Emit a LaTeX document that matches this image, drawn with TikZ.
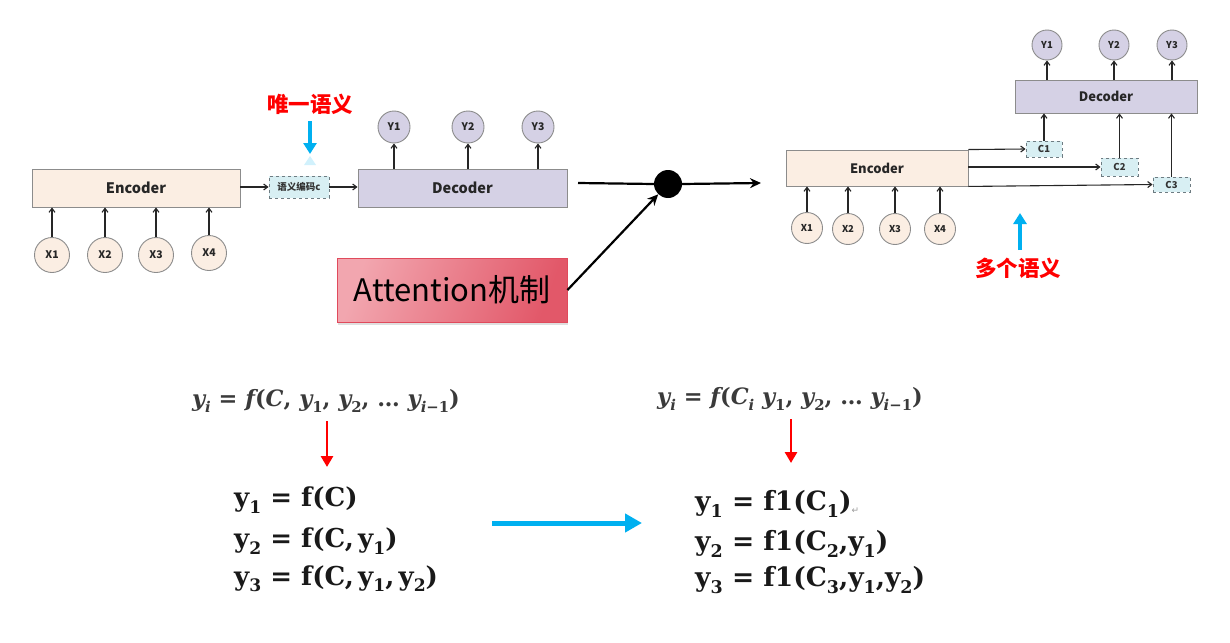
\documentclass[tikz,border=0pt]{standalone}
\usepackage{graphicx}
\usepackage{fontspec}
\usetikzlibrary{arrows.meta,shadows}
\newfontfamily\cjk{Noto Sans CJK SC}
\newfontfamily\symf{DejaVu Sans}
\newfontfamily\fser{DejaVu Serif}
\newcommand{\sbx}[1]{\raisebox{-0.24em}{\scalebox{0.66}{#1}}}
\newcommand{\vi}[1]{{\itshape #1}}
\definecolor{peach}{HTML}{FBEEE3}
\definecolor{lav}{HTML}{D5D1E5}
\definecolor{cfill}{HTML}{D8EFF3}
\definecolor{bgray}{HTML}{8C8C8C}
\definecolor{dgray}{HTML}{6E7C82}
\definecolor{skyb}{HTML}{00B0F0}
\definecolor{redt}{HTML}{FF0000}
\definecolor{attL}{HTML}{F2A6AF}
\definecolor{attR}{HTML}{E25869}
\definecolor{attB}{HTML}{E04A5C}
\definecolor{ftxt}{HTML}{3A3A3A}
\begin{document}
\begin{tikzpicture}[x=1pt,y=-1pt,
  box/.style={draw=bgray, line width=0.9pt, inner sep=0pt, text=black!85},
  encL/.style={box, fill=peach, minimum width=208pt, minimum height=38pt, font=\cjk\bfseries\fontsize{14.5}{16}\selectfont},
  decL/.style={box, fill=lav, minimum width=209pt, minimum height=38pt, font=\cjk\bfseries\fontsize{14.5}{16}\selectfont},
  encR/.style={box, fill=peach, minimum width=182pt, minimum height=36pt, font=\cjk\bfseries\fontsize{13}{15}\selectfont},
  decR/.style={box, fill=lav, minimum width=182pt, minimum height=33pt, font=\cjk\bfseries\fontsize{13}{15}\selectfont},
  xcL/.style={circle, draw=bgray, line width=0.9pt, fill=peach, inner sep=0pt, minimum size=35pt, text=black!85, font=\cjk\bfseries\fontsize{10.5}{12}\selectfont},
  ycL/.style={xcL, fill=lav, minimum size=32pt},
  xcR/.style={xcL, minimum size=31pt, font=\cjk\bfseries\fontsize{9.5}{11}\selectfont},
  ycR/.style={xcR, fill=lav, minimum size=30pt},
  cbox/.style={draw=dgray, dashed, line width=0.9pt, fill=cfill, inner sep=0pt, text=black!80, font=\cjk\bfseries\fontsize{9.5}{11}\selectfont},
  tarr/.style={draw=black!85, line width=1.1pt, -{Straight Barb[length=4pt,width=6pt]}},
  bigl/.style={draw=black, line width=2.2pt},
  bigarr/.style={bigl, -{Stealth[length=11pt,width=10pt]}},
  redlab/.style={text=redt, font=\cjk\bfseries\fontsize{21.5}{24}\selectfont},
  skyarr/.style={draw=skyb, line width=3.5pt, -{Triangle[length=11pt,width=13pt]}},
  redarr/.style={draw=redt, line width=2.8pt, -{Triangle[length=11pt,width=12pt]}},
  ftop/.style={text=ftxt, inner sep=0pt, font=\fser\bfseries\fontsize{22.5}{26}\selectfont},
  fbot/.style={text=black!90, inner sep=0pt, anchor=west, font=\fser\bfseries\fontsize{26}{30}\selectfont},
]
\useasboundingbox (0,0) rectangle (1230,642);

% ---------- left encoder-decoder ----------
\node[encL] (encl) at (136,188) {Encoder};
\node[xcL] (lx1) at (52,255) {X1};
\node[xcL] (lx2) at (105,255) {X2};
\node[xcL] (lx3) at (156,255) {X3};
\node[xcL] (lx4) at (209,253) {X4};
\foreach \n in {lx1,lx2,lx3,lx4}
  \draw[tarr] (\n.north) -- (\n.north |- encl.south);
\node[cbox, minimum width=60pt, minimum height=22pt] (sem) at (299,187) {语义编码c};
\node[decL] (decl) at (462.5,188) {Decoder};
\draw[tarr] (encl.east |- sem.west) -- (sem.west);
\draw[tarr] (sem.east) -- (sem.east -| decl.west);
\node[ycL] (ly1) at (394,127) {Y1};
\node[ycL] (ly2) at (468,127) {Y2};
\node[ycL] (ly3) at (538,127) {Y3};
\foreach \n in {ly1,ly2,ly3}
  \draw[tarr] (\n.south |- decl.north) -- (\n.south);
\node[redlab] (uniq) at (310,104) {唯一语义};
\coordinate (ua) at (310,121);
\coordinate (ub) at (310,154);
\draw[skyarr] (ua) -- (ub);
\fill[skyb!18] (304,165) -- (316,165) -- (310,156) -- cycle;

% ---------- middle ----------
\node[circle, fill=black, inner sep=0pt, minimum size=28pt] (dot) at (668,184) {};
\coordinate (ms) at (578,183);
\coordinate (me) at (761,183);
\draw[bigl] (ms) -- (dot.west);
\draw[bigarr] (dot.east) -- (me);
\node[draw=attB, line width=0.9pt, left color=attL, right color=attR, shading angle=70,
      minimum width=230pt, minimum height=64pt, inner sep=0pt,
      drop shadow={shadow xshift=1pt, shadow yshift=-3pt, opacity=0.25},
      font=\cjk\fontsize{31}{34}\selectfont] (att) at (452,290) {Attention机制};
\draw[bigarr] (att.east) -- (dot);

% ---------- right encoder-decoder ----------
\node[encR] (encr) at (877,168) {Encoder};
\node[decR] (decr) at (1106,96.5) {Decoder};
\node[xcR] (rx1) at (807,228) {X1};
\node[xcR] (rx2) at (848,229) {X2};
\node[xcR] (rx3) at (895,229) {X3};
\node[xcR] (rx4) at (940,229) {X4};
\foreach \n in {rx1,rx2,rx3,rx4}
  \draw[tarr] (\n.north) -- (\n.north |- encr.south);
\node[ycR] (ry1) at (1047,45) {Y1};
\node[ycR] (ry2) at (1114,45) {Y2};
\node[ycR] (ry3) at (1172,45) {Y3};
\foreach \n in {ry1,ry2,ry3}
  \draw[tarr] (\n.south |- decr.north) -- (\n.south);
\node[cbox, minimum width=36pt, minimum height=16pt] (c1) at (1044,149) {C1};
\node[cbox, minimum width=37pt, minimum height=18pt] (c2) at (1119.5,167) {C2};
\node[cbox, minimum width=37pt, minimum height=15pt] (c3) at (1171.5,184.5) {C3};
\draw[tarr] (encr.north east) -- (c1.west);
\draw[tarr] (encr.east |- c2.west) -- (c2.west);
\draw[tarr] (encr.south east) -- (c3.west);
\foreach \n in {c1,c2,c3}
  \draw[tarr] (\n.north) -- (\n.north |- decr.south);
\node[redlab] (multi) at (1018,268) {多个语义};
\coordinate (ma) at (1020,250);
\coordinate (mb) at (1020,213);
\draw[skyarr] (ma) -- (mb);

% ---------- formulas ----------
\node[ftop] (fl) at (326,401) {\vi{y}\sbx{\vi{i}} = \vi{f}(\vi{C}, \vi{y}\sbx{1}, \vi{y}\sbx{2}, … \vi{y}\sbx{\vi{i}−1})};
\node[ftop] (fr) at (790,399) {\vi{y}\sbx{\vi{i}} = \vi{f}(\vi{C}\sbx{\vi{i}} \vi{y}\sbx{1}, \vi{y}\sbx{2}, … \vi{y}\sbx{\vi{i}−1})};
\coordinate (la) at (327,421);
\coordinate (lb) at (327,467);
\draw[redarr] (la) -- (lb);
\coordinate (ra) at (791,419);
\coordinate (rb) at (791,463);
\draw[redarr] (ra) -- (rb);

\node[fbot] (l1) at (234,500) {y\sbx{1} = f(C)};
\node[fbot] (l2) at (234,541) {y\sbx{2} = f(C,\,y\sbx{1})};
\node[fbot] (l3) at (234,579) {y\sbx{3} = f(C,\,y\sbx{1},\,y\sbx{2})};
\node[fbot, font=\fser\bfseries\fontsize{26.5}{30}\selectfont] (r1) at (695,504) {y\sbx{1} = f1(C\sbx{1})\textcolor{black!40}{\symf\mdseries\fontsize{9}{9}\selectfont\raisebox{-3pt}{↵}}};
\node[fbot, font=\fser\bfseries\fontsize{26.5}{30}\selectfont] (r2) at (695,544) {y\sbx{2} = f1(C\sbx{2},y\sbx{1})};
\node[fbot, font=\fser\bfseries\fontsize{26.5}{30}\selectfont] (r3) at (695,580) {y\sbx{3} = f1(C\sbx{3},y\sbx{1},y\sbx{2})};

\coordinate (ba) at (492,523);
\coordinate (bb) at (642,523);
\draw[draw=skyb, line width=5pt, -{Triangle[length=17pt,width=18pt]}] (ba) -- (bb);
\end{tikzpicture}
\end{document}
